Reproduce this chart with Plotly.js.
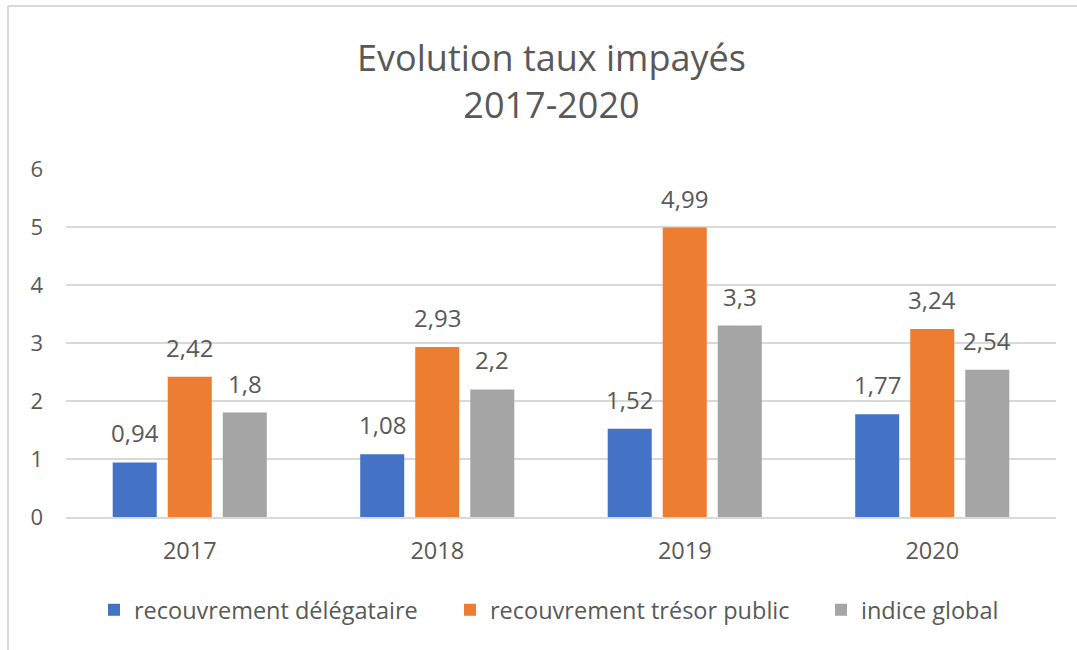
<!DOCTYPE html>
<html>
<head>
<meta charset="utf-8">
<script src="https://cdn.plot.ly/plotly-3.0.1.min.js"></script>
<style>
  html, body { margin: 0; padding: 0; background: #ffffff; }
  #chart { width: 1077px; height: 650px; }
</style>
</head>
<body>
<div id="chart"></div>
<script>
// ---- data ----
const years = ["2017", "2018", "2019", "2020"];
const seriesNames = ["recouvrement délégataire", "recouvrement trésor public", "indice global"];
const delegataire = [0.94, 1.08, 1.52, 1.77];
const tresorPublic = [2.42, 2.93, 4.99, 3.24];
const indiceGlobal = [1.8, 2.2, 3.3, 2.54];
const yTicks = [0, 1, 2, 3, 4, 5, 6];
const titleText = "Evolution taux impayés<br>2017-2020";

// ---- styling ----
const colors = ["#4472C4", "#ED7D31", "#A5A5A5"];
const textColor = "#595959";
const gridColor = "#D9D9D9";
const fontFamily = "'Open Sans', 'DejaVu Sans', sans-serif";

const W = 1077, H = 650;
const margin = { l: 66, r: 21, t: 169, b: 133 };
const plotW = W - margin.l - margin.r;
const plotH = H - margin.t - margin.b;
const px2x = p => (p - margin.l) / plotW;
const py2y = p => (H - margin.b - p) / plotH;

const legendIds = ["legend", "legend2", "legend3"];
const legendLeftPx = [94, 450, 821];

const allSeries = [delegataire, tresorPublic, indiceGlobal];
const traces = allSeries.map((vals, j) => ({
  type: "bar",
  name: seriesNames[j],
  x: years,
  y: vals,
  legend: legendIds[j],
  marker: { color: colors[j] },
  hoverinfo: "x+y+name"
}));

// data labels as annotations, shifted per series slot
const bargap = 0.333, bargroupgap = 0.2;
const slotPx = plotW / years.length * (1 - bargap) / allSeries.length;
const fmt = v => String(v).replace(".", ",");
const annotations = [];
allSeries.forEach((vals, j) => {
  vals.forEach((v, i) => {
    annotations.push({
      x: i, y: v, xref: "x", yref: "y",
      text: fmt(v), showarrow: false,
      xanchor: "center", yanchor: "bottom",
      xshift: (j - 1) * slotPx, yshift: 11,
      font: { family: fontFamily, size: 24, color: textColor }
    });
  });
});

// frame lines (top and left edges of chart area)
const shapes = [
  { type: "line", xref: "paper", yref: "paper", x0: px2x(8), x1: px2x(W + 5), y0: py2y(6), y1: py2y(6),
    line: { color: gridColor, width: 2 } },
  { type: "line", xref: "paper", yref: "paper", x0: px2x(8), x1: px2x(8), y0: py2y(6), y1: py2y(H + 5),
    line: { color: gridColor, width: 2 } }
];

const legendBase = {
  orientation: "h",
  xanchor: "left",
  y: py2y(610), yanchor: "middle",
  font: { family: fontFamily, size: 23.5, color: textColor },
  itemwidth: 30,
  bgcolor: "rgba(0,0,0,0)"
};

const layout = {
  width: W, height: H,
  margin: margin,
  paper_bgcolor: "#ffffff",
  plot_bgcolor: "#ffffff",
  font: { family: fontFamily, color: textColor, size: 20 },
  title: {
    text: titleText,
    font: { family: fontFamily, size: 36, color: textColor },
    x: 551.5 / W, xanchor: "center",
    y: 1 - 71 / H, yanchor: "top", yref: "container"
  },
  barmode: "group",
  bargap: bargap,
  bargroupgap: bargroupgap,
  xaxis: {
    type: "category",
    range: [-0.5, years.length - 0.5],
    showgrid: false,
    showline: true, linecolor: gridColor, linewidth: 2,
    ticks: "",
    ticklabelstandoff: 12,
    tickfont: { family: fontFamily, size: 23.5, color: textColor },
    zeroline: false
  },
  yaxis: {
    range: [0, 6],
    tickvals: yTicks,
    ticktext: yTicks.map(String),
    showgrid: true, gridcolor: gridColor, gridwidth: 2,
    showline: false, zeroline: false,
    ticks: "",
    ticklabelstandoff: 22,
    tickfont: { family: fontFamily, size: 22, color: textColor }
  },
  legend: Object.assign({}, legendBase, { x: px2x(legendLeftPx[0]) }),
  legend2: Object.assign({}, legendBase, { x: px2x(legendLeftPx[1]) }),
  legend3: Object.assign({}, legendBase, { x: px2x(legendLeftPx[2]) }),
  annotations: annotations,
  shapes: shapes,
  showlegend: true
};

Plotly.newPlot("chart", traces, layout, { displayModeBar: false, staticPlot: true });
</script>
</body>
</html>
